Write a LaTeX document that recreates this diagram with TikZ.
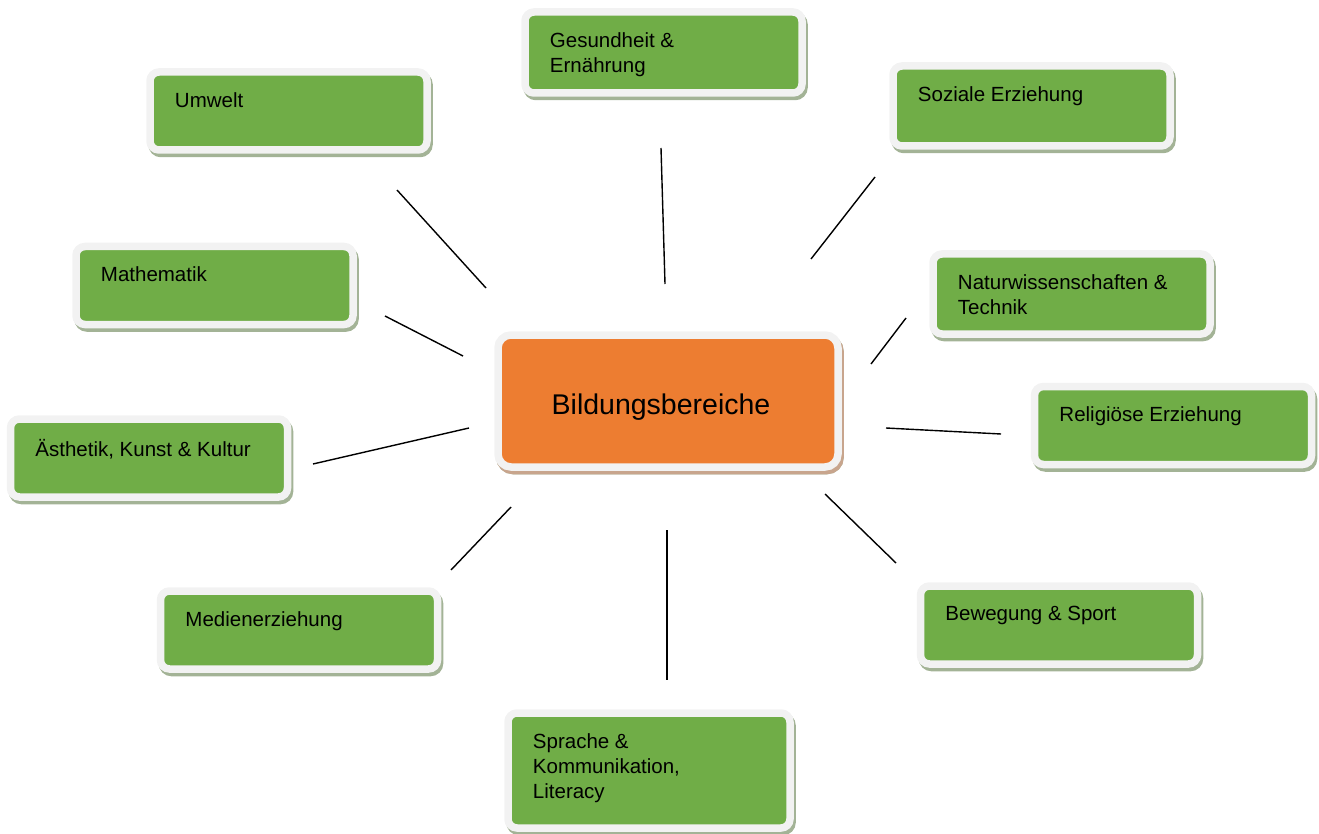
\documentclass[tikz,border=0pt]{standalone}
\usepackage{fontspec}
\setmainfont{Liberation Sans}
\usetikzlibrary{shadows}

\definecolor{gruen}{HTML}{70AD47}
\definecolor{orangebox}{HTML}{ED7D31}
\definecolor{randgrau}{HTML}{F2F2F2}
\definecolor{schattengruen}{HTML}{A3B396}
\definecolor{schattenorange}{HTML}{C8A58D}

\tikzset{
  feld/.style={rounded corners=9pt, draw=randgrau, line width=7.5pt, fill=gruen,
    minimum width=277pt, minimum height=78pt, inner sep=0pt,
    drop shadow={shadow xshift=2pt, shadow yshift=-3.5pt, opacity=1,
      fill=schattengruen, draw=schattengruen, line width=7.5pt}},
  mitte/.style={feld, fill=orangebox, rounded corners=13pt,
    minimum width=340pt, minimum height=132pt,
    drop shadow={shadow xshift=2pt, shadow yshift=-3.5pt, opacity=1,
      fill=schattenorange, draw=schattenorange, line width=7.5pt}},
  beschr/.style={anchor=north west, align=left, inner sep=0pt,
    font=\fontsize{20.5}{25}\selectfont},
  linie/.style={line width=1.4pt, black}
}

\begin{document}
\begin{tikzpicture}[x=1pt,y=-1pt]
  \useasboundingbox (0,0) rectangle (1319,834);

  % Felder
  \node[feld] (gesundheit) at (663.5,52.5) [minimum height=81pt] {};
  \node[feld] (umwelt) at (288.5,111) {};
  \node[feld] (sozial) at (1031.5,106) [minimum height=80pt] {};
  \node[feld] (mathe) at (214.5,285.5) {};
  \node[feld] (natur) at (1071.5,294) [minimum height=80pt] {};
  \node[feld] (religion) at (1173,425.5) {};
  \node[feld] (aesthetik) at (149,458) {};
  \node[feld] (medien) at (299,630) {};
  \node[feld] (bewegung) at (1059,625) {};
  \node[feld] (sprache) at (649,770.5) [minimum width=282pt, minimum height=115pt] {};
  \node[mitte] (bildung) at (668,401) {};

  % Beschriftungen
  \node[beschr] (gesundheit-t) at ([shift={(28.5pt,-24pt)}]gesundheit.north west) {Gesundheit \&\\Ernährung};
  \node[beschr] (umwelt-t) at ([shift={(28.5pt,-24pt)}]umwelt.north west) {Umwelt};
  \node[beschr] (sozial-t) at ([shift={(28.5pt,-24pt)}]sozial.north west) {Soziale Erziehung};
  \node[beschr] (mathe-t) at ([shift={(28.5pt,-24pt)}]mathe.north west) {Mathematik};
  \node[beschr] (natur-t) at ([shift={(28.5pt,-24pt)}]natur.north west) {Naturwissenschaften \&\\Technik};
  \node[beschr] (religion-t) at ([shift={(28.5pt,-24pt)}]religion.north west) {Religiöse Erziehung};
  \node[beschr] (aesthetik-t) at ([shift={(28.5pt,-24pt)}]aesthetik.north west) {Ästhetik, Kunst \& Kultur};
  \node[beschr] (medien-t) at ([shift={(28.5pt,-24pt)}]medien.north west) {Medienerziehung};
  \node[beschr] (bewegung-t) at ([shift={(28.5pt,-24pt)}]bewegung.north west) {Bewegung \& Sport};
  \node[beschr] (sprache-t) at ([shift={(28.5pt,-24pt)}]sprache.north west) {Sprache \&\\Kommunikation,\\Literacy};
  \node[font=\fontsize{28.5}{34}\selectfont] (bildung-t) at (661,407) {Bildungsbereiche};

  % Linien
  \coordinate (u1) at (397,190);  \coordinate (u2) at (486,288);
  \coordinate (g1) at (661,148);  \coordinate (g2) at (665,284);
  \coordinate (s1) at (875,177);  \coordinate (s2) at (811,259);
  \coordinate (m1) at (385,316);  \coordinate (m2) at (463,356);
  \coordinate (n1) at (906,318);  \coordinate (n2) at (871,364);
  \coordinate (r1) at (886,428);  \coordinate (r2) at (1001,434);
  \coordinate (a1) at (313,464);  \coordinate (a2) at (469,428);
  \coordinate (e1) at (451,570);  \coordinate (e2) at (511,507);
  \coordinate (k1) at (667,530);  \coordinate (k2) at (667,680);
  \coordinate (b1) at (825,494);  \coordinate (b2) at (896,563);

  \draw[linie] (u1) -- (u2);
  \draw[linie] (g1) -- (g2);
  \draw[linie] (s1) -- (s2);
  \draw[linie] (m1) -- (m2);
  \draw[linie] (n1) -- (n2);
  \draw[linie] (r1) -- (r2);
  \draw[linie] (a1) -- (a2);
  \draw[linie] (e1) -- (e2);
  \draw[linie] (k1) -- (k2);
  \draw[linie] (b1) -- (b2);
\end{tikzpicture}
\end{document}
